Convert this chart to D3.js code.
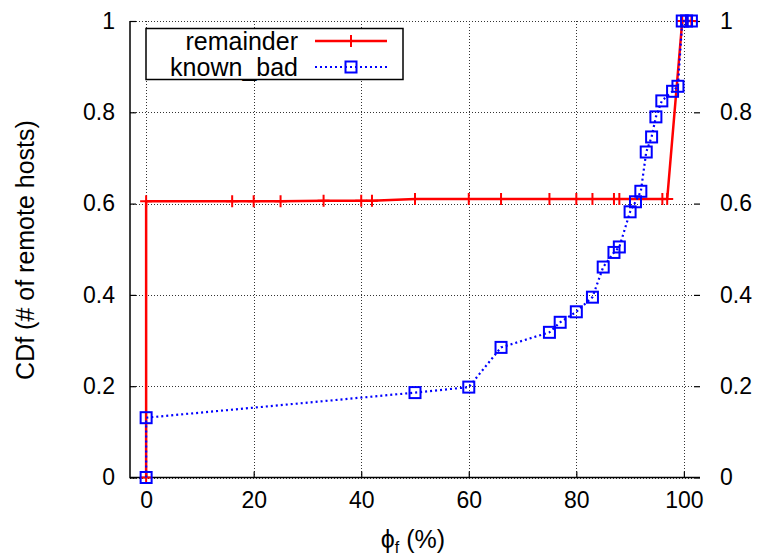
<!DOCTYPE html>
<html>
<head>
<meta charset="utf-8">
<script src="https://cdn.jsdelivr.net/npm/d3@7"></script>
<style>
body { margin: 0; background: #fff; }
svg { display: block; }
text { font-family: "Liberation Sans", Arial, sans-serif; fill: #000; }
</style>
</head>
<body>
<svg id="chart"></svg>
<script>
// tick values
var xTicks = [0, 20, 40, 60, 80, 100];
var yTicks = [0, 0.2, 0.4, 0.6, 0.8, 1];

// remainder series (red, plus)
var remainderX = [0, 0, 16, 20, 25, 33, 40, 42, 50, 60, 66, 75, 80, 83, 87, 88, 96, 96.9, 99.7, 100.5, 101.4];
var remainderY = [0, 0.605, 0.605, 0.605, 0.605, 0.606, 0.606, 0.606, 0.61, 0.61, 0.61, 0.61, 0.61, 0.61, 0.61, 0.61, 0.61, 0.61, 1, 1, 1];

// known_bad series (blue, square)
var knownBadX = [0, 0, 50, 60, 66, 75, 77, 80, 83, 85, 87, 88, 90, 91, 92, 93, 94, 94.8, 95.9, 97.9, 98.9, 99.7, 100.5, 101.4];
var knownBadY = [0, 0.131, 0.186, 0.198, 0.285, 0.318, 0.34, 0.363, 0.395, 0.461, 0.493, 0.505, 0.582, 0.604, 0.627, 0.713, 0.746, 0.79, 0.825, 0.846, 0.857, 1, 1, 1];

var seriesNames = ["remainder", "known_bad"];

var toPoints = function(xs, ys)
{
    return xs.map(function(x, i){ return {x: x, y: ys[i]}; });
}

var width = 762, height = 558;
var plotLeft = 130, plotRight = 700, plotTop = 21, plotBottom = 477.5;

var svg = d3.select("#chart").attr("width", width).attr("height", height);
svg.append("rect").attr("width", width).attr("height", height).attr("fill", "#fff");

var xScale = d3.scaleLinear().domain([-3, 103]).range([plotLeft, plotRight]);
var yScale = d3.scaleLinear().domain([0, 1]).range([plotBottom, plotTop]);

// grid
var grid = svg.append("g").attr("stroke", "#333").attr("stroke-width", 1).attr("stroke-dasharray", "1,2");
grid.selectAll("line.h").data(yTicks).enter().append("line")
    .attr("x1", plotLeft).attr("x2", plotRight - 6)
    .attr("y1", function(d){ return Math.round(yScale(d)) + 0.5; })
    .attr("y2", function(d){ return Math.round(yScale(d)) + 0.5; });
grid.selectAll("line.v").data(xTicks).enter().append("line")
    .attr("y1", plotTop).attr("y2", plotBottom)
    .attr("x1", function(d){ return Math.round(xScale(d)) + 0.5; })
    .attr("x2", function(d){ return Math.round(xScale(d)) + 0.5; });

// axes
var fmt = function(d){ return d3.format("")(d); };
var xAxis = d3.axisBottom(xScale).tickValues(xTicks).tickSize(-6).tickPadding(14).tickFormat(fmt);
var yAxisL = d3.axisLeft(yScale).tickValues(yTicks).tickSize(-6).tickPadding(15).tickFormat(fmt);
var yAxisR = d3.axisRight(yScale).tickValues(yTicks).tickSize(-6).tickPadding(20).tickFormat(fmt);

var styleAxis = function(g)
{
    g.select(".domain").remove();
    g.selectAll("line").attr("stroke", "#000").attr("stroke-width", 1.2);
    g.selectAll("text").attr("font-size", 23).attr("font-family", "Liberation Sans, Arial, sans-serif");
}

svg.append("g").attr("transform", "translate(0," + plotBottom + ")").call(xAxis).call(styleAxis);
svg.append("g").attr("transform", "translate(" + plotLeft + ",0)").call(yAxisL).call(styleAxis);
svg.append("g").attr("transform", "translate(" + plotRight + ",0)").call(yAxisR).call(styleAxis);

// border (left + bottom)
svg.append("path")
    .attr("d", "M" + plotLeft + "," + plotTop + "V" + plotBottom + "H" + plotRight)
    .attr("fill", "none").attr("stroke", "#000").attr("stroke-width", 1.5);

var line = d3.line()
    .x(function(p){ return xScale(p.x); })
    .y(function(p){ return yScale(p.y); });

var remainder = toPoints(remainderX, remainderY);
var knownBad = toPoints(knownBadX, knownBadY);

var plusPath = "M-6,0H6M0,-6V6";

var drawRemainder = function(g, points)
{
    g.append("path").datum(points).attr("d", line)
        .attr("fill", "none").attr("stroke", "#ff0000").attr("stroke-width", 2.5);
    g.selectAll("path.mk").data(points).enter().append("path")
        .attr("class", "mk")
        .attr("transform", function(p){ return "translate(" + xScale(p.x) + "," + yScale(p.y) + ")"; })
        .attr("d", plusPath)
        .attr("stroke", "#ff0000").attr("stroke-width", 2).attr("fill", "none");
}

var drawKnownBad = function(g, points)
{
    g.append("path").datum(points).attr("d", line)
        .attr("fill", "none").attr("stroke", "#0000ff").attr("stroke-width", 2.2).attr("stroke-dasharray", "2,3");
    g.selectAll("rect").data(points).enter().append("rect")
        .attr("x", function(p){ return xScale(p.x) - 5.5; })
        .attr("y", function(p){ return yScale(p.y) - 5.5; })
        .attr("width", 11).attr("height", 11)
        .attr("fill", "none").attr("stroke", "#0000ff").attr("stroke-width", 2);
}

drawRemainder(svg.append("g"), remainder);
drawKnownBad(svg.append("g"), knownBad);

// legend
var legend = svg.append("g");
legend.append("rect").attr("x", 146).attr("y", 28.5).attr("width", 257).attr("height", 51)
    .attr("fill", "#fff").attr("stroke", "#000").attr("stroke-width", 1.5);
var rowY = [41, 67];
legend.selectAll("text").data(seriesNames).enter().append("text")
    .attr("x", 298).attr("y", function(d, i){ return rowY[i] + 9; })
    .attr("text-anchor", "end").attr("font-size", 25)
    .text(function(d){ return d; });
legend.append("line").attr("x1", 315).attr("x2", 387).attr("y1", rowY[0]).attr("y2", rowY[0])
    .attr("stroke", "#ff0000").attr("stroke-width", 2.5);
legend.append("path").attr("transform", "translate(351," + rowY[0] + ")").attr("d", plusPath)
    .attr("stroke", "#ff0000").attr("stroke-width", 2);
legend.append("line").attr("x1", 315).attr("x2", 387).attr("y1", rowY[1]).attr("y2", rowY[1])
    .attr("stroke", "#0000ff").attr("stroke-width", 2.2).attr("stroke-dasharray", "2,3");
legend.append("rect").attr("x", 345.5).attr("y", rowY[1] - 5.5).attr("width", 11).attr("height", 11)
    .attr("fill", "none").attr("stroke", "#0000ff").attr("stroke-width", 2);

// axis titles
svg.append("text")
    .attr("transform", "translate(34,250) rotate(-90)")
    .attr("text-anchor", "middle").attr("font-size", 25)
    .text("CDf (# of remote hosts)");

var xt = svg.append("text").attr("x", 413).attr("y", 548).attr("text-anchor", "middle").attr("font-size", 25);
xt.append("tspan").text("\u03D5");
xt.append("tspan").attr("font-size", 16).attr("dy", 5).text("f");
xt.append("tspan").attr("dy", -5).text(" (%)");
</script>
</body>
</html>
